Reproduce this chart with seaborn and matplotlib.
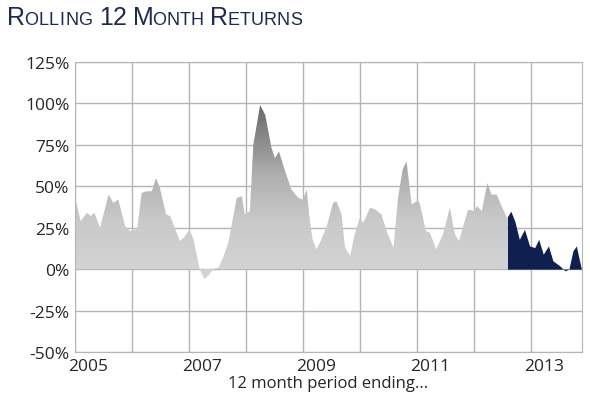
import numpy as np
import matplotlib.pyplot as plt
import seaborn as sns
from matplotlib.colors import LinearSegmentedColormap

# decimal year of each point and rolling 12 month return (%)
years = [2004.77, 2004.87, 2004.98, 2005.05, 2005.11, 2005.21, 2005.36, 2005.44, 2005.53, 2005.65,
         2005.74, 2005.86, 2005.94, 2006.03, 2006.12, 2006.19, 2006.26, 2006.37, 2006.44, 2006.61,
         2006.68, 2006.78, 2006.85, 2006.96, 2007.04, 2007.11, 2007.20, 2007.29, 2007.37, 2007.46,
         2007.61, 2007.70, 2007.75, 2007.84, 2007.90, 2008.02, 2008.11, 2008.22, 2008.28, 2008.35,
         2008.46, 2008.57, 2008.69, 2008.77, 2008.84, 2008.88, 2008.94, 2009.01, 2009.07, 2009.19,
         2009.30, 2009.36, 2009.45, 2009.51, 2009.60, 2009.68, 2009.77, 2009.83, 2009.95, 2010.04,
         2010.15, 2010.24, 2010.36, 2010.44, 2010.52, 2010.59, 2010.68, 2010.77, 2010.82, 2010.93,
         2011.00, 2011.11, 2011.23, 2011.35, 2011.44, 2011.51, 2011.67, 2011.77, 2011.83, 2011.91,
         2012.01, 2012.08, 2012.17, 2012.26, 2012.35, 2012.42, 2012.49, 2012.57, 2012.66, 2012.75,
         2012.84, 2012.91, 2012.99, 2013.08, 2013.16, 2013.28, 2013.37, 2013.44, 2013.51, 2013.57,
         2013.66]
returns = [43, 29, 34, 32, 34, 25, 45, 40, 42, 26,
           23, 24, 46, 47, 47, 55, 49, 33, 32, 17,
           19, 24, 18, 0, -6, -4, 0, 1, 7, 16,
           43, 44, 33, 35, 75, 99, 93, 73, 67, 71,
           59, 48, 43, 42, 48, 33, 18, 12, 16, 26,
           40, 41, 33, 13, 8, 21, 31, 28, 37, 36,
           33, 23, 13, 43, 60, 65, 39, 41, 40, 23,
           22, 12, 21, 37, 21, 17, 36, 35, 38, 35,
           52, 45, 45, 38, 31, 35, 29, 18, 24, 14,
           13, 18, 9, 14, 5, 2, -1, 0, 11, 14,
           0]
split_year = 2012.36
tick_years = [2005, 2007, 2009, 2011, 2013]

sns.set_style("white")
plt.rcParams['font.family'] = ['Open Sans', 'DejaVu Sans']

fig = plt.figure(figsize=(5.9, 4.14), dpi=100)
ax = fig.add_axes([75 / 590, 61 / 414, 507 / 590, 290 / 414])

x = np.array(years)
y = np.array(returns, dtype=float)
ys = np.interp(split_year, x, y)
old = x <= split_year
xg = np.append(x[old], split_year)
yg = np.append(y[old], ys)
xn = np.insert(x[~old], 0, split_year)
yn = np.insert(y[~old], 0, ys)

x0, x1 = 2004.77, 2013.67
ax.set_xlim(x0, x1)
ax.set_ylim(-50, 125)

# gradient grey area
poly = ax.fill_between(xg, 0, yg, color='none', lw=0)
cmap = LinearSegmentedColormap.from_list('g', [(0, '#d6d6d6'), (0.35, '#cacaca'),
                                               (0.6, '#b0b0b0'), (1, '#666666')])
grad = np.linspace(0, 1, 256).reshape(-1, 1)
img = ax.imshow(grad, extent=[x0, x1, -10, 100], origin='lower', aspect='auto',
                cmap=cmap, zorder=2)
img.set_clip_path(poly.get_paths()[0], transform=ax.transData)
ax.fill_between(xn, 0, yn, color='#0f1f4f', lw=0, zorder=3)

# grid
for g in np.arange(x0, x1, 1.0):
    ax.axvline(g, color='#b5b5b5', lw=1, zorder=1)
for v in range(-50, 126, 25):
    ax.axhline(v, color='#b5b5b5', lw=1, zorder=1)

ax.set_xticks(tick_years)
ax.set_xticklabels([str(t) for t in tick_years], fontsize=12.5)
ax.set_yticks(range(-50, 126, 25))
ax.set_yticklabels([f'{v}%' for v in range(-50, 126, 25)], fontsize=12.5)
ax.tick_params(length=0, pad=4)
for s in ax.spines.values():
    s.set_color('#b5b5b5')
ax.set_xlabel('12 month period ending...', fontsize=12, labelpad=1)

# small caps title
fam = ['Liberation Sans Narrow', 'Liberation Sans', 'DejaVu Sans']
parts = [('R', 18), ('OLLING', 13), (' 12 ', 18), ('M', 18), ('ONTH', 13), (' R', 18), ('ETURNS', 13)]
fig.canvas.draw()
r = fig.canvas.get_renderer()
xpos = 7
for txt, size in parts:
    for ch in txt:
        t = fig.text(xpos / 590, 1 - 25 / 414, ch, fontsize=size, family=fam,
                     color='#1c2a50', va='baseline')
        w = t.get_window_extent(r).width if ch != ' ' else 5
        xpos += w * 0.85 + 2
fig.savefig('out.png', dpi=100)
